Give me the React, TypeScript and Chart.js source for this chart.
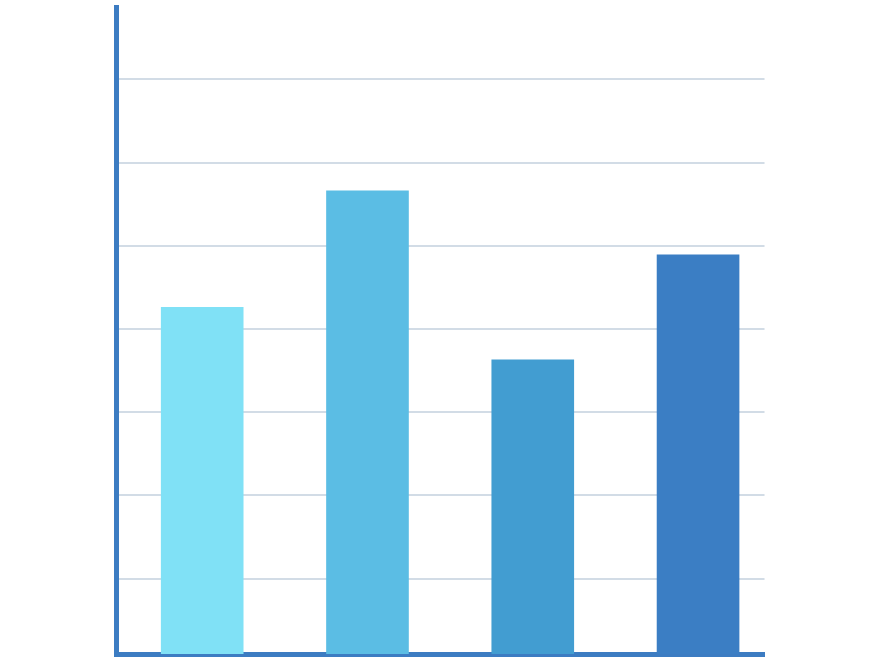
import Chart from "chart.js/auto";
import { useEffect, useRef } from "react";

// four unlabeled categories, placed at index 0..3 on a linear x axis
const categories = ["A", "B", "C", "D"];
const values = [4.17, 5.57, 3.54, 4.8];
// horizontal guide lines (value units, zero sits on the x axis line)
const gridValues = [0.905, 1.905, 2.905, 3.905, 4.905, 5.905, 6.905];
const yMax = 7.77;

const barColors = ["#80E1F6", "#5BBDE4", "#429DD1", "#3B7EC4"];
const axisColor = "#3C7CC2";

export default function App() {
  const chartRef = useRef<HTMLCanvasElement | null>(null);

  useEffect(() => {
    if (!chartRef.current) return;
    const ctx = chartRef.current.getContext("2d");
    if (!ctx) return;

    const chart = new Chart(ctx, {
      type: "bar",
      data: {
        datasets: [
          {
            label: "values",
            data: values.map((v, i) => ({ x: i, y: v })),
            backgroundColor: barColors,
            borderWidth: 0,
            categoryPercentage: 1,
            barPercentage: 0.5,
          },
        ],
      },
      options: {
        animation: false,
        responsive: true,
        maintainAspectRatio: false,
        layout: { padding: { left: 116, top: 7.5, right: 115.5, bottom: 6 } },
        plugins: {
          legend: { display: false },
          tooltip: { enabled: false },
        },
        scales: {
          x: {
            type: "linear",
            min: -0.5215,
            max: 3.402,
            offset: false,
            z: 1,
            grid: { display: false, drawTicks: false },
            ticks: { display: false },
            border: { display: true, color: axisColor, width: 5 },
            afterBuildTicks: (axis) => {
              axis.ticks = categories.map((_, i) => ({ value: i }));
            },
          },
          y: {
            min: 0,
            max: yMax,
            grid: { color: "#D2DCE6", lineWidth: 2, drawTicks: false },
            ticks: { display: false },
            border: { display: true, color: axisColor, width: 5 },
            afterBuildTicks: (axis) => {
              axis.ticks = gridValues.map((v) => ({ value: v }));
            },
          },
        },
      },
    });
    return () => chart.destroy();
  }, []);

  return (
    <div style={{ position: "fixed", left: 0, top: 0, width: 880, height: 660, background: "#fff" }}>
      <canvas ref={chartRef} />
    </div>
  );
}
